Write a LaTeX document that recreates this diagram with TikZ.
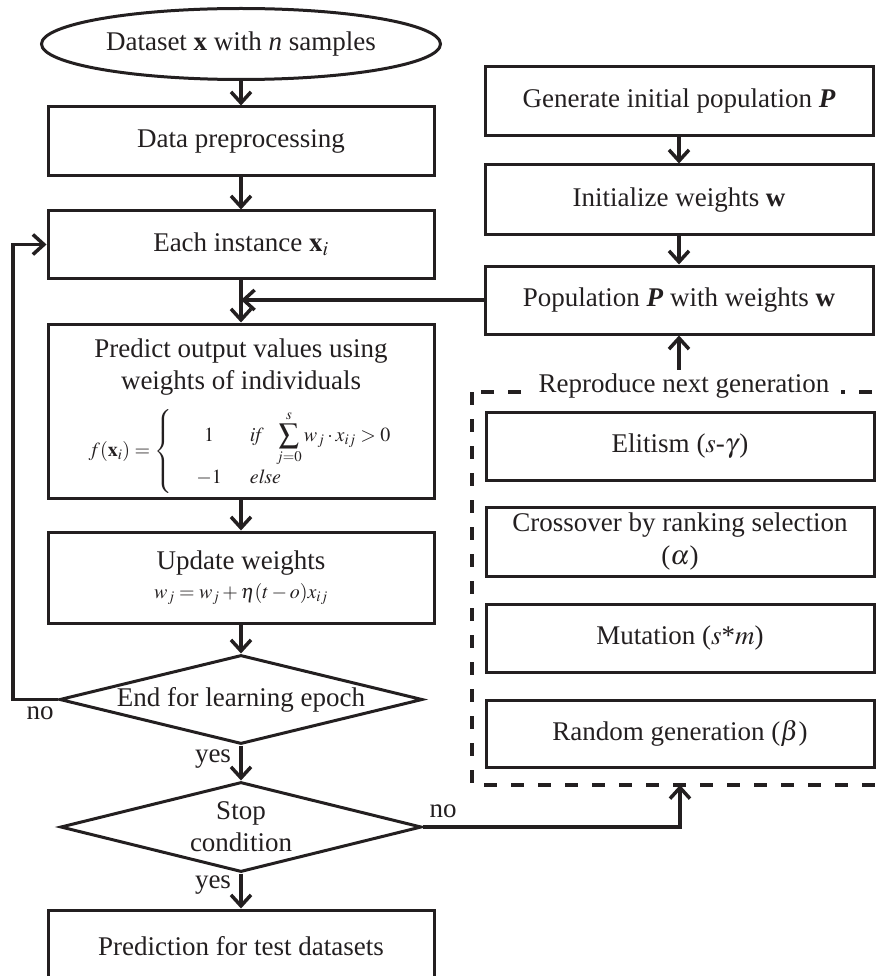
\documentclass[tikz,border=0pt]{standalone}
\usepackage{mathptmx}
\usepackage[no-math]{fontspec}
\setmainfont{Liberation Serif}
\usetikzlibrary{shapes.geometric,arrows.meta,calc}
\definecolor{ink}{RGB}{35,31,32}

\begin{document}
\begin{tikzpicture}[x=1pt,y=-1pt,
  every node/.style={text=ink,font=\fontsize{27}{32}\selectfont},
  box/.style={draw=ink,line width=3pt,minimum width=386pt,inner sep=0pt,align=center},
  rbox/.style={box,minimum width=388pt},
  decision/.style={draw=ink,line width=3pt,diamond,aspect=4,inner sep=0pt,align=center},
  formula/.style={font=\fontsize{20}{24}\selectfont,inner sep=0pt},
  lbl/.style={inner sep=0pt},
  flow/.style={draw=ink,line width=3.5pt,-{Straight Barb[length=11pt,width=20pt]}},
  dashline/.style={draw=ink,line width=3.3pt,dash pattern=on 13pt off 14pt}
]
\useasboundingbox (0,0) rectangle (882,976);
\clip (0,0) rectangle (882,976);

% main learning loop (left column)
\node[ellipse,draw=ink,line width=3pt,minimum width=399pt,minimum height=71pt,inner sep=0pt]
  (src) at (241,44) {Dataset \textbf{x} with \textit{n} samples};
\node[box,minimum height=69pt] (prep) at (241,141.5) {Data preprocessing};
\node[box,minimum height=67pt] (inst) at (241,244.5) {Each instance $\mathbf{x}_i$};

\node[box,minimum height=174pt] (pred) at (241,411) {};
\node[align=center,inner sep=0pt] (predtxt) at (241,367) {Predict output values using\\weights of individuals};
\node[formula] (predf) at (240,451)
  {$f(\mathbf{x}_i)=\left\{\begin{array}{@{\hspace{24pt}}c@{\hspace{28pt}}l@{}}
     1 & \mathit{if}\ \ \displaystyle\sum_{j=0}^{s} w_j\cdot x_{ij}>0\\[2pt]
     -1 & \mathit{else}
   \end{array}\right.$};

\node[box,minimum height=91pt] (upd) at (241,577.5) {};
\node[inner sep=0pt] (updtxt) at (241,563) {Update weights};
\node[formula] (updf) at (241,594) {$w_j=w_j+\eta(t-o)x_{ij}$};

\node[decision,minimum width=363pt,minimum height=89pt] (epoch) at (241,699.5) {End for learning epoch};
\node[decision,minimum width=361pt,minimum height=90pt] (stop) at (241,827) {Stop\\condition};
\node[box,minimum height=72pt] (test) at (241,946) {Prediction for test datasets};

% genetic algorithm (right column)
\node[rbox,minimum height=69pt] (gen) at (679,101) {Generate initial population \textbf{\textit{P}}};
\node[rbox,minimum height=70pt] (initw) at (679,200) {Initialize weights \textbf{w}};
\node[rbox,minimum height=68pt] (popw) at (679,300) {Population \textbf{\textit{P}} with weights \textbf{w}};

\draw[dashline] (472,392) rectangle (900,785);
\node[fill=white,inner xsep=12pt,inner ysep=4pt] (repro) at (684,386) {Reproduce next generation};

\node[rbox,minimum height=68pt] (elit) at (680,446) {Elitism ($s$-$\gamma$\kern1pt)};
\node[rbox,minimum height=69pt,font=\fontsize{27}{33}\selectfont] (cross) at (680,542) {Crossover by ranking selection\\($\alpha$)};
\node[rbox,minimum height=68pt] (mut) at (680,638) {Mutation ($s$*$m$)};
\node[rbox,minimum height=67pt] (rand) at (680,733.5) {Random generation ($\beta$)};

\coordinate (loopx) at (13,0);
\coordinate (rbot) at (680,785);

% connectors
\draw[flow] (src) -- (prep);
\draw[flow] (prep) -- (inst);
\draw[flow] (inst) -- (pred);
\draw[flow] (popw.west) -- (inst.south |- popw.west);
\draw[flow] (pred) -- (upd);
\draw[flow] (upd) -- (epoch);
\draw[flow] (epoch) -- (stop);
\draw[flow] (stop) -- (test);
\draw[flow] (epoch.west) -- (epoch.west -| loopx) |- (inst.west);
\draw[flow] (stop.east) -| (rbot);
\draw[flow] (gen) -- (initw);
\draw[flow] (initw) -- (popw);
\draw[flow] (popw.south |- repro.north) -- (popw.south);

% branch labels
\node[lbl] (no1) at (40,713) {no};
\node[lbl] (yes1) at (213,759) {yes};
\node[lbl] (yes2) at (213,885) {yes};
\node[lbl] (no2) at (443,811) {no};
\end{tikzpicture}
\end{document}
